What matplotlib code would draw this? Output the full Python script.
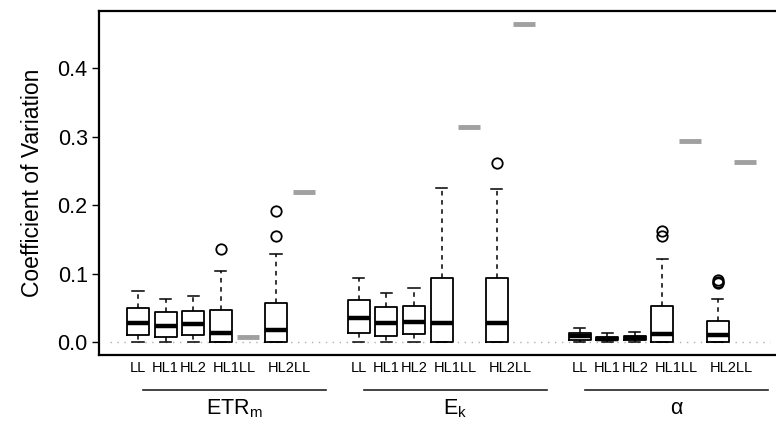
import matplotlib
matplotlib.use("Agg")
import matplotlib.pyplot as plt

plt.rcParams["font.family"] = ["Liberation Sans", "DejaVu Sans"]
plt.rcParams["mathtext.fontset"] = "custom"
plt.rcParams["mathtext.rm"] = "Liberation Sans"
plt.rcParams["mathtext.it"] = "Liberation Sans:italic"

conditions = ["LL", "HL1", "HL2", "HL1LL", "HL2LL"]
group_labels = [r"$\mathrm{ETR_m}$", r"$\mathrm{E_k}$", "α"]

# box stats per group (LL, HL1, HL2, HL1LL, HL2LL)
etr_whislo = [0.0, 0.0, 0.0, 0.0, 0.0]
etr_q1 = [0.0102, 0.0078, 0.0102, 0.0, 0.0]
etr_med = [0.0288, 0.024, 0.026, 0.0136, 0.0185]
etr_q3 = [0.050, 0.044, 0.045, 0.0477, 0.0574]
etr_whishi = [0.0745, 0.063, 0.0676, 0.104, 0.1285]
etr_fliers = [[], [], [], [0.1358], [0.1543, 0.1908]]
etr_ref = [0.0083, 0.2194]

ek_whislo = [0.0, 0.0, 0.0, 0.0, 0.0]
ek_q1 = [0.0141, 0.0098, 0.0127, 0.0, 0.0]
ek_med = [0.036, 0.0288, 0.0302, 0.0277, 0.0277]
ek_q3 = [0.0623, 0.0511, 0.0526, 0.0934, 0.0939]
ek_whishi = [0.0939, 0.0725, 0.0793, 0.2248, 0.2234]
ek_fliers = [[], [], [], [], [0.2613]]
ek_ref = [0.3143, 0.4647]

alpha_whislo = [0.0, 0.0, 0.0, 0.0, 0.0]
alpha_q1 = [0.004, 0.003, 0.003, 0.0, 0.0]
alpha_med = [0.0088, 0.0054, 0.0063, 0.0117, 0.0107]
alpha_q3 = [0.0141, 0.0083, 0.0092, 0.0526, 0.0311]
alpha_whishi = [0.0204, 0.0136, 0.015, 0.122, 0.0628]
alpha_fliers = [[], [], [], [0.155, 0.162], [0.0866, 0.0885, 0.0915]]
alpha_ref = [0.293, 0.2637]

groups = [
    (etr_whislo, etr_q1, etr_med, etr_q3, etr_whishi, etr_fliers, etr_ref),
    (ek_whislo, ek_q1, ek_med, ek_q3, ek_whishi, ek_fliers, ek_ref),
    (alpha_whislo, alpha_q1, alpha_med, alpha_q3, alpha_whishi, alpha_fliers, alpha_ref),
]

box_slots = [1, 2, 3, 4, 6]
ref_slots = [5, 7]
label_slots = [1, 2, 3, 4.5, 6.5]
group_gap = 8

fig = plt.figure(figsize=(7.76, 4.25), dpi=100)
ax = fig.add_axes([98.8 / 776, 70 / 425, 685.6 / 776, 344 / 425])

ax.hlines(0, 0, 23.9, colors="#b0b0b0", linestyles=(0, (1, 4)), lw=1, zorder=0)

trans = ax.get_xaxis_transform()
for gi, (lo, q1, med, q3, hi, fl, ref) in enumerate(groups):
    off = gi * group_gap
    stats = []
    for i in range(len(conditions)):
        stats.append(dict(whislo=lo[i], q1=q1[i], med=med[i], q3=q3[i],
                          whishi=hi[i], fliers=fl[i]))
    ax.bxp(stats, positions=[off + s for s in box_slots], widths=0.8,
           capwidths=0.4, showfliers=True, manage_ticks=False,
           boxprops=dict(color="black", lw=1.3),
           medianprops=dict(color="black", lw=3.2, solid_capstyle="butt"),
           whiskerprops=dict(color="black", lw=1.1, linestyle=(0, (3, 3))),
           capprops=dict(color="black", lw=1.1),
           flierprops=dict(marker="o", markerfacecolor="none",
                           markeredgecolor="black", markersize=7.5, markeredgewidth=1.3))
    for s, v in zip(ref_slots, ref):
        ax.hlines(v, off + s - 0.4, off + s + 0.4, colors="#a0a0a0", lw=3.5)

    for s, c in zip(label_slots, conditions):
        ax.text(off + s, -0.037, c, transform=trans, ha="center", va="center",
                fontsize=10.5)
    ax.plot([off + 1.18, off + 7.81], [-0.1017, -0.1017], transform=trans,
            color="#222222", lw=1.2, clip_on=False)
    ax.text(off + 4.5, -0.155, group_labels[gi], transform=trans,
            ha="center", va="center", fontsize=15.5)

ax.set_xlim(-0.42, 24.42)
ax.set_ylim(-0.0186, 0.4833)
ax.set_xticks([])
ax.set_yticks([0.0, 0.1, 0.2, 0.3, 0.4])
ax.set_yticklabels(["0.0", "0.1", "0.2", "0.3", "0.4"], fontsize=15.5)
ax.tick_params(axis="y", length=5, width=1, pad=3)
ax.set_ylabel("Coefficient of Variation", fontsize=16.5, labelpad=10)
for sp in ax.spines.values():
    sp.set_linewidth(1.6)

fig.savefig("out.png", dpi=100)
